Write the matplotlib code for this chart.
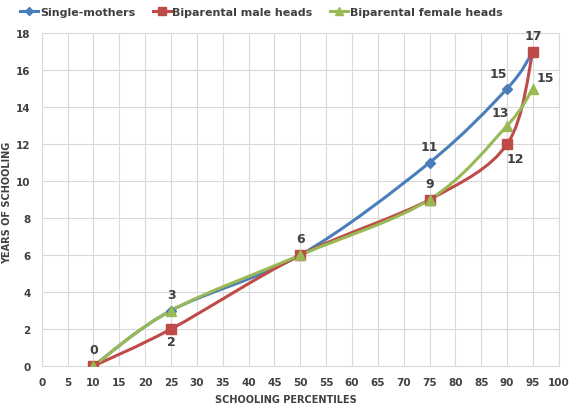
import numpy as np
import matplotlib.pyplot as plt
from matplotlib.path import Path
from matplotlib.patches import PathPatch
from matplotlib.lines import Line2D

# Data
percentiles = [10, 25, 50, 75, 90, 95]
single_mothers = [0, 3, 6, 11, 15, 17]
male_heads = [0, 2, 6, 9, 12, 17]
female_heads = [0, 3, 6, 9, 13, 15]

names = ["Single-mothers", "Biparental male heads", "Biparental female heads"]
colors = ["#4A7EBB", "#BE4B48", "#98B954"]
markers = ["D", "s", "^"]
msizes = [5, 7, 7]

# label offsets (points) for each value label, None = no label (overlaps another)
offsets = [
    [(0, 7), (0, 7), (0, 7), (0, 7), (-6, 6), (0, 7)],
    [None, (0, -14), None, None, (6, -15), None],
    [None, None, None, (0, 7), (-5, 5), (9, 3)],
]

label_color = "#404040"


def smooth_path(xs, ys):
    # Excel-style smoothed line drawn as cubic Bezier segments
    pts = np.column_stack([xs, ys]).astype(float)
    n = len(pts)
    verts = [pts[0]]
    codes = [Path.MOVETO]
    for i in range(n - 1):
        p0 = pts[i - 1] if i > 0 else pts[i]
        p1 = pts[i]
        p2 = pts[i + 1]
        p3 = pts[i + 2] if i + 2 < n else pts[i + 1]
        c1 = p1 + (p2 - p0) / 6.0
        c2 = p2 - (p3 - p1) / 6.0
        verts += [c1, c2, p2]
        codes += [Path.CURVE4] * 3
    return Path(verts, codes)


fig = plt.figure(figsize=(5.72, 4.06), dpi=100)
ax = fig.add_axes([0.073, 0.096, 0.904, 0.82])

series = [single_mothers, male_heads, female_heads]
handles = []
for ys, name, c, m, ms, offs in zip(series, names, colors, markers, msizes, offsets):
    patch = PathPatch(smooth_path(percentiles, ys), facecolor="none",
                      edgecolor=c, lw=2.2, zorder=3)
    ax.add_patch(patch)
    ax.plot(percentiles, ys, linestyle="none", marker=m, ms=ms, color=c, zorder=4)
    handles.append(Line2D([0], [0], color=c, lw=2.2, marker=m, ms=ms - 1))
    for x, y, off in zip(percentiles, ys, offs):
        if off is None:
            continue
        ax.annotate(str(y), (x, y), xytext=off, textcoords="offset points",
                    ha="center", va="bottom", fontsize=9, fontweight="bold",
                    color=label_color, zorder=5)

ax.set_xlim(0, 100)
ax.set_ylim(0, 18)
ax.set_xticks(np.arange(0, 101, 5))
ax.set_yticks(np.arange(0, 19, 2))
ax.grid(True, color="#D9D9D9", lw=0.8)
ax.set_axisbelow(True)
for s in ax.spines.values():
    s.set_color("#D9D9D9")
ax.tick_params(length=0, labelsize=7.5, labelcolor=label_color, pad=8)
for lab in ax.get_xticklabels() + ax.get_yticklabels():
    lab.set_fontweight("bold")

fig.text(0.5, 0.003, "SCHOOLING PERCENTILES", fontsize=7, fontweight="bold",
         color=label_color, ha="center", va="bottom")
fig.text(0.003, 0.5, "YEARS OF SCHOOLING", fontsize=7, fontweight="bold",
         color=label_color, ha="left", va="center", rotation=90)

fig.legend(handles, names, loc="upper center", bbox_to_anchor=(0.457, 1.005),
           ncol=3, frameon=False, handlelength=1.6, handletextpad=0.15,
           columnspacing=1.6, prop={"size": 8, "weight": "bold"},
           labelcolor=label_color)

fig.savefig("out.png", dpi=100)
